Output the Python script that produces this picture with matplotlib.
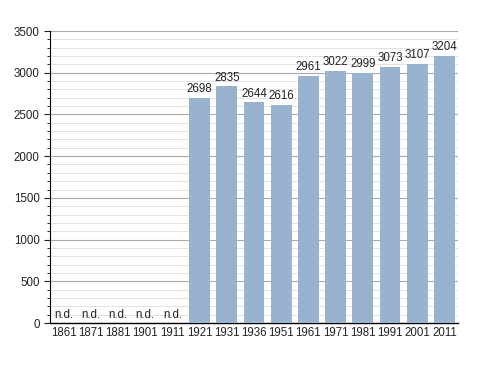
import matplotlib
matplotlib.use("Agg")
import matplotlib.pyplot as plt
from matplotlib.ticker import MultipleLocator
import numpy as np

years = ["1861", "1871", "1881", "1901", "1911", "1921", "1931", "1936",
         "1951", "1961", "1971", "1981", "1991", "2001", "2011"]
population = [None, None, None, None, None, 2698, 2835, 2644, 2616, 2961,
              3022, 2999, 3073, 3107, 3204]

plt.rcParams['font.family'] = ['Liberation Sans', 'DejaVu Sans']
FS = 8.3

fig = plt.figure(figsize=(4.88, 3.73), dpi=100)
ax = fig.add_axes([50/488, 1 - 323/373, 408/488, 292/373])

x = np.arange(len(years))
vals = [v if v is not None else 0 for v in population]
ax.bar(x, vals, width=0.77, color="#98b2cf", zorder=3)

for xi, v in zip(x, population):
    if v is None:
        ax.text(xi, 25, "n.d.", ha="center", va="bottom", fontsize=FS, color="#222222", zorder=4)
    else:
        ax.text(xi, v + 30, str(v), ha="center", va="bottom", fontsize=FS, color="#222222", zorder=4)

ax.set_xlim(-0.5, len(years) - 0.5)
ax.set_ylim(0, 3500)
ax.set_xticks(x)
ax.set_xticklabels(years, fontsize=FS)
ax.yaxis.set_major_locator(MultipleLocator(500))
ax.yaxis.set_minor_locator(MultipleLocator(100))
ax.tick_params(axis="y", which="major", labelsize=FS, length=4, width=0.8, colors="#222222")
ax.tick_params(axis="y", which="minor", length=2, width=0.6)
ax.tick_params(axis="x", length=0, pad=3, colors="#222222")

ax.grid(axis="y", which="major", color="#aaaaaa", linewidth=0.8, zorder=1)
ax.grid(axis="y", which="minor", color="#dddddd", linewidth=0.6, zorder=0)

for s in ["top", "right"]:
    ax.spines[s].set_visible(False)
ax.spines["left"].set_linewidth(0.8)
ax.spines["bottom"].set_linewidth(1.0)

fig.savefig("out.png", dpi=100)
